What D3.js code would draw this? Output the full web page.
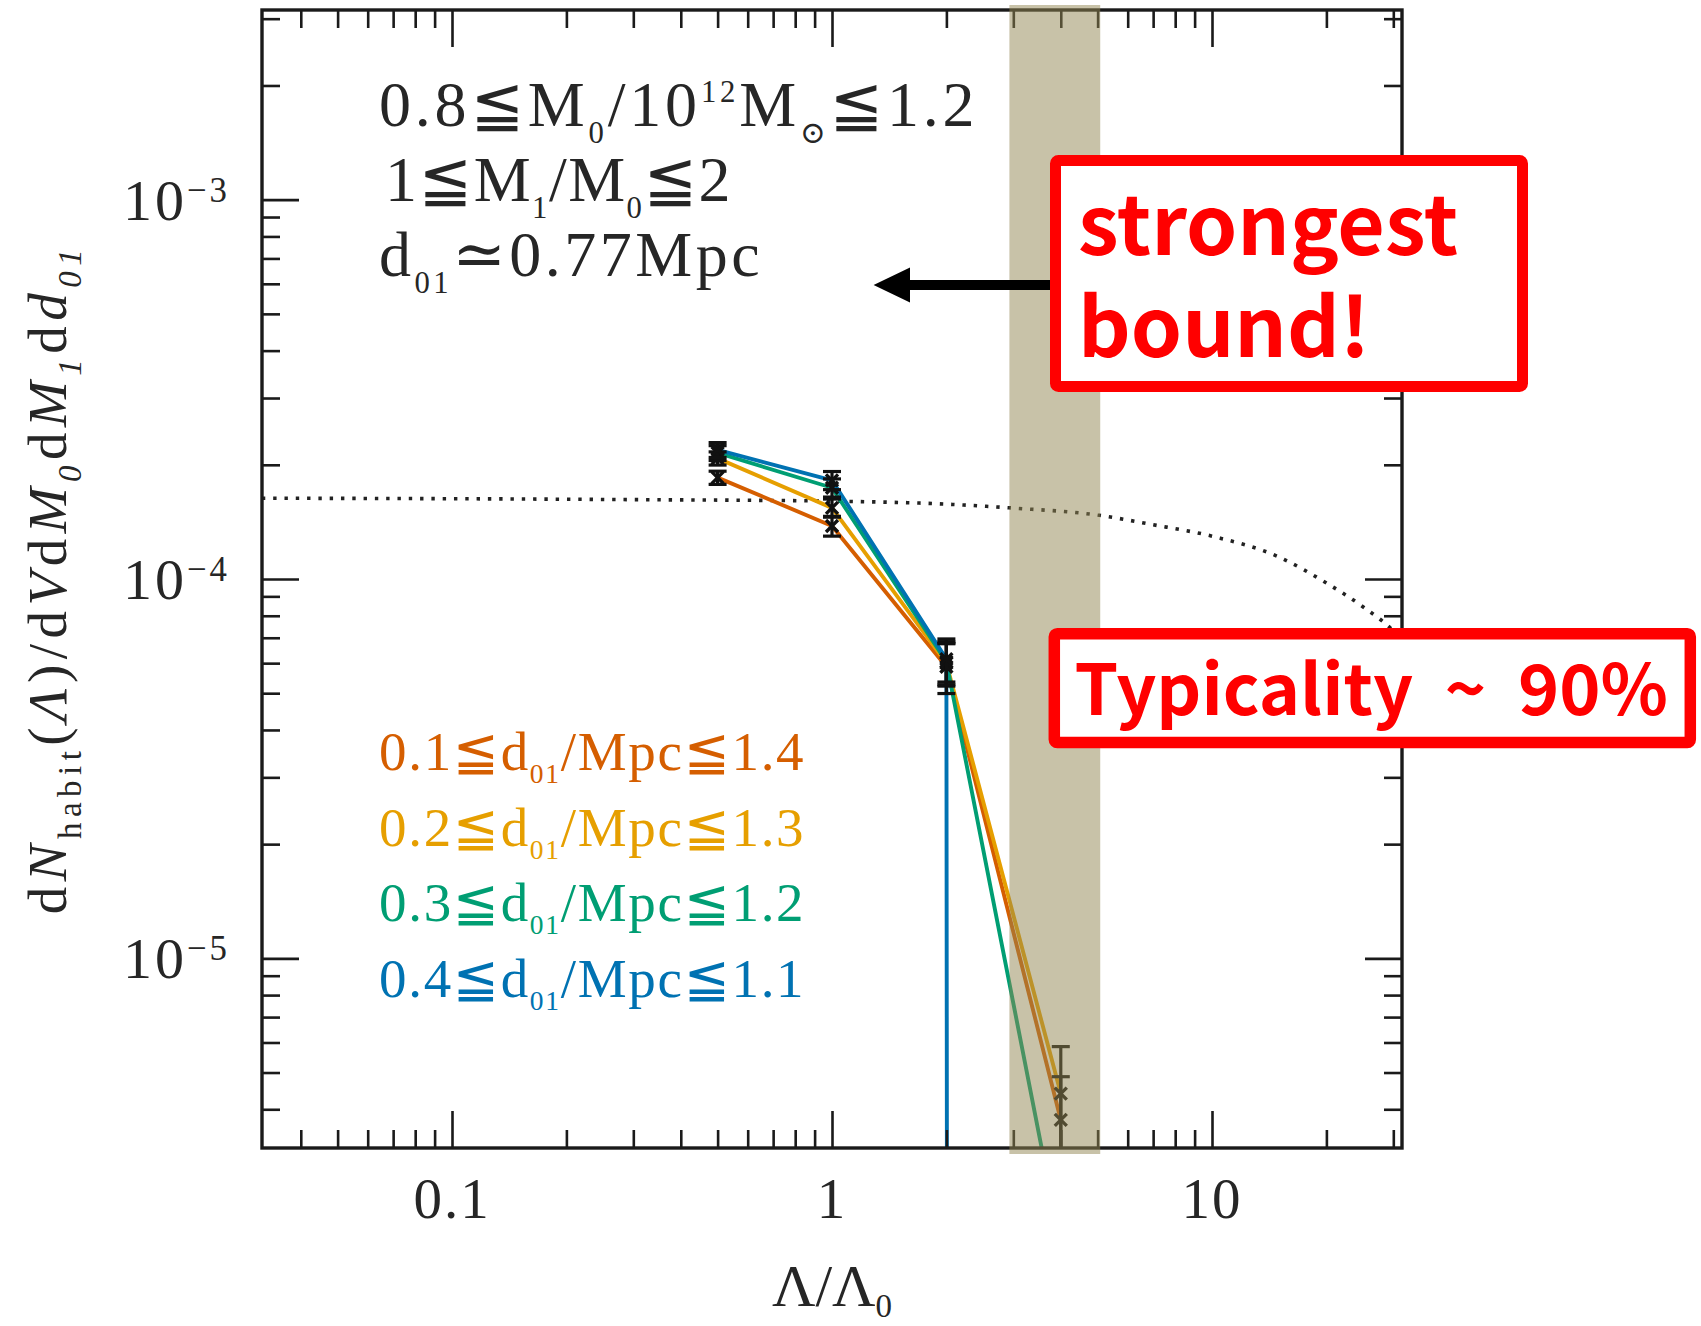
<!DOCTYPE html>
<html><head><meta charset="utf-8">
<script src="https://cdn.jsdelivr.net/npm/d3@7"></script>
<style>
html,body{margin:0;padding:0;background:#fff;}
svg{display:block;}
</style></head>
<body>
<svg id="chart" width="1701" height="1326"></svg>
<script>
// ---------------- DATA ----------------
const lambdaValues = [0.5, 1, 2, 4];
const seriesLo = ["0.1", "0.2", "0.3", "0.4"];
const seriesHi = ["1.4", "1.3", "1.2", "1.1"];
const seriesColors = ["#D55E00", "#E69F00", "#009E73", "#0072B2"];
const orangeValues = [1.85e-4, 1.38e-4, 5.87e-5, 3.75e-6];
const yellowValues = [2.08e-4, 1.54e-4, 6.00e-5, 4.40e-6];
const greenValues  = [2.15e-4, 1.74e-4, 6.05e-5, 1.75e-6];
const blueValues   = [2.19e-4, 1.82e-4, 6.15e-5, 0];
const orangeErrors = [0.04, 0.06, 0.15, 0.30];
const yellowErrors = [0.04, 0.055, 0.13, 0.33];
const greenErrors  = [0.045, 0.055, 0.13, 0.40];
const blueErrors   = [0.045, 0.055, 0.13, 0];
const modelLambda = [0.0316, 0.1, 0.3, 1, 2, 3, 5, 7, 10, 15, 20, 25, 30, 31.6];
const modelValues = [1.633e-4, 1.628e-4, 1.619e-4, 1.604e-4, 1.575e-4, 1.538e-4, 1.474e-4,
                     1.39e-4, 1.297e-4, 1.143e-4, 9.76e-5, 8.44e-5, 7.30e-5, 6.91e-5];
const xTickValues = [0.1, 1, 10];
const xTickLabels = ["0.1", "1", "10"];
const yTickValues = [1e-3, 1e-4, 1e-5];
const yTickExponents = ["\u22123", "\u22124", "\u22125"];
const bandLambda = [2.93, 5.08];

const seriesValues = [orangeValues, yellowValues, greenValues, blueValues];
const seriesErrors = [orangeErrors, yellowErrors, greenErrors, blueErrors];

// ---------------- LAYOUT ----------------
const svg = d3.select("#chart");
const L = 262, R = 1402, T = 10, B = 1148;
const x = d3.scaleLog().domain([Math.pow(10, -1.5), Math.pow(10, 1.5)]).range([L, R]);
const y = d3.scaleLog().domain([Math.pow(10, -5.5), Math.pow(10, -2.5)]).range([B, T]);
const yv = v => y(Math.max(v, 1e-300));

svg.append("rect").attr("width", 1701).attr("height", 1326).attr("fill", "#fff");
svg.append("defs").append("clipPath").attr("id", "plotclip")
  .append("rect").attr("x", L).attr("y", T).attr("width", R - L).attr("height", B - T);

const serif = "'Liberation Serif','DejaVu Serif','DejaVu Sans',serif";
const ink = "#1a1a1a";
const txt = "#262626";

function rich(sel, parts, size, subScale, subShift, supShift) {
  let cur = 0;
  parts.forEach(p => {
    const off = p.sub ? subShift : (p.sup ? -supShift : 0);
    const ts = sel.append("tspan").text(p.t).attr("dy", off - cur);
    cur = off;
    if (p.sub || p.sup) ts.attr("font-size", size * subScale);
    if (p.it) ts.attr("font-style", "italic");
  });
}

const plot = svg.append("g").attr("clip-path", "url(#plotclip)");

// dotted model curve
plot.append("path")
  .datum(modelLambda.map((l, i) => [l, modelValues[i]]))
  .attr("fill", "none").attr("stroke", "#222").attr("stroke-width", 3.6)
  .attr("stroke-dasharray", "3.4 7.9")
  .attr("d", d3.line().x(d => x(d[0])).y(d => y(d[1])).curve(d3.curveMonotoneX));

// series lines
const line = d3.line().x(d => x(d[0])).y(d => yv(d[1]));
seriesValues.forEach((vals, s) => {
  plot.append("path")
    .datum(lambdaValues.map((l, i) => [l, vals[i]]))
    .attr("fill", "none").attr("stroke", seriesColors[s]).attr("stroke-width", 3.9)
    .attr("stroke-linejoin", "round")
    .attr("d", line);
});

// error bars and x markers
seriesValues.forEach((vals, s) => {
  vals.forEach((v, i) => {
    if (v <= 0) return;
    const e = seriesErrors[s][i];
    const cx = x(lambdaValues[i]);
    const y1 = y(v * (1 + e)), y0 = y(Math.max(v * (1 - e), 1e-12));
    const g = plot.append("g").attr("stroke", "#111").attr("stroke-width", 3.2).attr("fill", "none");
    g.append("line").attr("x1", cx).attr("x2", cx).attr("y1", y1).attr("y2", y0);
    g.append("line").attr("x1", cx - 9).attr("x2", cx + 9).attr("y1", y1).attr("y2", y1);
    g.append("line").attr("x1", cx - 9).attr("x2", cx + 9).attr("y1", y0).attr("y2", y0);
    const cy = y(v);
    g.append("path").attr("stroke-width", 3.4)
      .attr("d", `M${cx - 6},${cy - 6}L${cx + 6},${cy + 6}M${cx - 6},${cy + 6}L${cx + 6},${cy - 6}`);
  });
});

// ---------------- AXES ----------------
function logTicks(domain) {
  const out = [];
  for (let k = -7; k <= 3; k++) for (let m = 1; m <= 9; m++) {
    const v = m * Math.pow(10, k);
    if (v >= domain[0] * 0.9999 && v <= domain[1] * 1.0001) out.push({ v, major: m === 1 });
  }
  return out;
}
const xt = logTicks(x.domain()), yt = logTicks(y.domain());
const MAJ = 37, MIN = 18;
const axB = d3.axisBottom(x).tickValues(xt.filter(d => !d.major).map(d => d.v)).tickSize(-MIN).tickFormat("");
const axBM = d3.axisBottom(x).tickValues(xt.filter(d => d.major).map(d => d.v)).tickSize(-MAJ).tickFormat("");
const axT = d3.axisTop(x).tickValues(xt.filter(d => !d.major).map(d => d.v)).tickSize(-MIN).tickFormat("");
const axTM = d3.axisTop(x).tickValues(xt.filter(d => d.major).map(d => d.v)).tickSize(-MAJ).tickFormat("");
const axL = d3.axisLeft(y).tickValues(yt.filter(d => !d.major).map(d => d.v)).tickSize(-MIN).tickFormat("");
const axLM = d3.axisLeft(y).tickValues(yt.filter(d => d.major).map(d => d.v)).tickSize(-MAJ).tickFormat("");
const axR = d3.axisRight(y).tickValues(yt.filter(d => !d.major).map(d => d.v)).tickSize(-MIN).tickFormat("");
const axRM = d3.axisRight(y).tickValues(yt.filter(d => d.major).map(d => d.v)).tickSize(-MAJ).tickFormat("");
[[axB, `translate(0,${B})`], [axBM, `translate(0,${B})`], [axT, `translate(0,${T})`], [axTM, `translate(0,${T})`],
 [axL, `translate(${L},0)`], [axLM, `translate(${L},0)`], [axR, `translate(${R},0)`], [axRM, `translate(${R},0)`]]
  .forEach(([a, tr]) => {
    const g = svg.append("g").attr("transform", tr).call(a);
    g.select(".domain").remove();
    g.selectAll(".tick line").attr("stroke", ink).attr("stroke-width", 2.6);
  });
svg.append("rect").attr("x", L).attr("y", T).attr("width", R - L).attr("height", B - T)
  .attr("fill", "none").attr("stroke", ink).attr("stroke-width", 3.4);

// tick labels
xTickValues.forEach((v, i) => {
  svg.append("text").attr("x", x(v)).attr("y", 1218).attr("text-anchor", "middle")
    .attr("font-family", serif).attr("font-size", 57).attr("letter-spacing", 2).attr("fill", txt).text(xTickLabels[i]);
});
yTickValues.forEach((v, i) => {
  const t = svg.append("text").attr("x", 230).attr("y", y(v) + 20).attr("text-anchor", "end")
    .attr("font-family", serif).attr("font-size", 58).attr("letter-spacing", 3).attr("fill", txt);
  rich(t, [{ t: "10" }, { t: yTickExponents[i], sup: true }], 58, 0.6, 0, 18);
});

// axis titles
const xl = svg.append("text").attr("x", x(1)).attr("y", 1306).attr("text-anchor", "middle")
  .attr("font-family", serif).attr("font-size", 60).attr("fill", txt);
rich(xl, [{ t: "\u039B/\u039B" }, { t: "0", sub: true }], 60, 0.55, 11, 0);

const yl = svg.append("text").attr("transform", `translate(66,${(T + B) / 2}) rotate(-90)`)
  .attr("text-anchor", "middle").attr("font-family", serif).attr("font-size", 55)
  .attr("letter-spacing", 5.5).attr("fill", txt);
rich(yl, [
  { t: "d" }, { t: "N", it: true }, { t: "habit", sub: true }, { t: "(" }, { t: "\u039B", it: true }, { t: ")/d" },
  { t: "V", it: true }, { t: "d" }, { t: "M", it: true }, { t: "0", sub: true, it: true }, { t: "d" },
  { t: "M", it: true }, { t: "1", sub: true, it: true }, { t: "d" }, { t: "d", it: true }, { t: "01", sub: true, it: true }
], 55, 0.6, 15, 0);

// annotation (black)
const annSize = 64;
const a1 = svg.append("text").attr("x", 379).attr("y", 126).attr("font-family", serif).attr("font-size", annSize)
  .attr("fill", txt).attr("letter-spacing", 3.8);
rich(a1, [{ t: "0.8\u2266M" }, { t: "0", sub: true }, { t: "/10" }, { t: "12", sup: true }, { t: "M" },
  { t: "\u2299", sub: true }, { t: "\u22661.2" }], annSize, 0.48, 17, 24);
const a2 = svg.append("text").attr("x", 385).attr("y", 201).attr("font-family", serif).attr("font-size", annSize)
  .attr("fill", txt).attr("letter-spacing", 1.5);
rich(a2, [{ t: "1\u2266M" }, { t: "1", sub: true }, { t: "/M" }, { t: "0", sub: true }, { t: "\u22662" }], annSize, 0.48, 17, 24);
const a3 = svg.append("text").attr("x", 379).attr("y", 276).attr("font-family", serif).attr("font-size", annSize)
  .attr("fill", txt).attr("letter-spacing", 3.5);
rich(a3, [{ t: "d" }, { t: "01", sub: true }, { t: "\u22430.77Mpc" }], annSize, 0.48, 17, 24);

// legend
const legBase = [770, 846, 921, 997];
seriesLo.forEach((lo, s) => {
  const t = svg.append("text").attr("x", 379).attr("y", legBase[s]).attr("font-family", serif)
    .attr("font-size", 55).attr("fill", seriesColors[s]).attr("letter-spacing", 1.7);
  rich(t, [{ t: lo + "\u2266d" }, { t: "01", sub: true }, { t: "/Mpc\u2266" + seriesHi[s] }], 55, 0.5, 13, 0);
});

// ---------------- OVERLAYS ----------------
svg.append("rect").attr("x", x(bandLambda[0])).attr("width", x(bandLambda[1]) - x(bandLambda[0]))
  .attr("y", T - 5).attr("height", B - T + 11)
  .attr("fill", "#918552").attr("fill-opacity", 0.5);

// arrow
svg.append("path").attr("fill", "#000")
  .attr("d", "M873.6,285 L910,267.5 L910,280 L1052,280 L1052,290 L910,290 L910,302.5 Z");

// red boxes
const red = "#FF0000";
svg.append("rect").attr("x", 1055.5).attr("y", 160.5).attr("width", 467).attr("height", 226)
  .attr("rx", 3).attr("fill", "#fff").attr("stroke", red).attr("stroke-width", 11);
svg.append("rect").attr("x", 1054.3).attr("y", 633.8).attr("width", 636).attr("height", 108.8)
  .attr("rx", 3).attr("fill", "#fff").attr("stroke", red).attr("stroke-width", 11.5);
const sans = "'Noto Sans CJK KR','Noto Sans',sans-serif";
svg.append("text").attr("x", 1078).attr("y", 255).attr("font-family", sans).attr("font-weight", 700)
  .attr("font-size", 82).attr("fill", red).text("strongest");
svg.append("text").attr("x", 1078).attr("y", 357).attr("font-family", sans).attr("font-weight", 700)
  .attr("font-size", 82).attr("fill", red).text("bound!");
svg.append("text").attr("x", 1074.5).attr("y", 715).attr("font-family", sans).attr("font-weight", 700)
  .attr("font-size", 70).attr("fill", red).style("white-space", "pre").text("Typicality  ~  90%");
</script>
</body></html>
